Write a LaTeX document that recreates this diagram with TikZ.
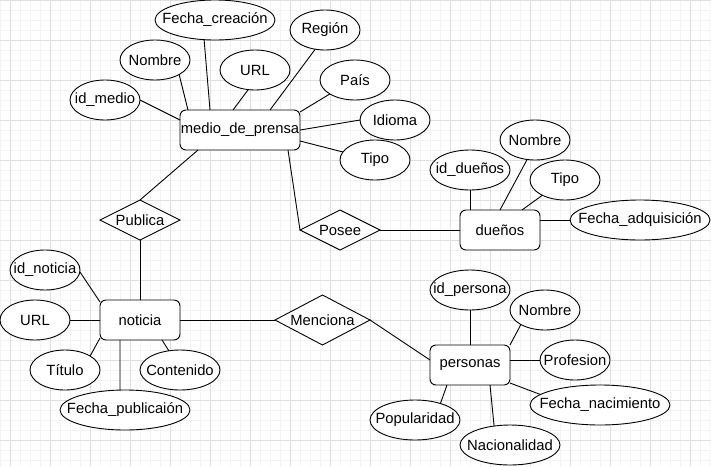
\documentclass[tikz,border=0pt]{standalone}
\usepackage{fontspec}
\setmainfont{Liberation Sans}
\usetikzlibrary{shapes.geometric}
\definecolor{gridminor}{HTML}{F3F3F3}
\definecolor{gridmajor}{HTML}{DFDFDF}
% text of zero width, so that shapes keep their given size
\newcommand{\erlabel}[1]{\makebox[0pt]{#1}}
\tikzset{
  every node/.style={font=\fontsize{14.8}{17}\selectfont, text=black},
  entity/.style={draw, line width=0.9pt, fill=white, rounded corners=6pt,
    minimum width=#1, minimum height=40pt, inner sep=0pt, outer sep=0pt},
  attr/.style={draw, line width=0.9pt, fill=white, ellipse,
    minimum width=#1, minimum height=40pt, inner sep=0pt, outer sep=0pt},
  rel/.style={draw, line width=0.9pt, fill=white, diamond,
    minimum width=#1, minimum height=#1*0.5, inner sep=0pt, outer sep=0pt},
  link/.style={line width=0.9pt, black},
}
\begin{document}
\begin{tikzpicture}[x=1pt, y=-1pt]
\useasboundingbox (0,0) rectangle (711,466);
\fill[white] (0,0) rectangle (711,466);
% background grid
\foreach \x in {0,10,...,710} \draw[gridminor, line width=0.8pt] (\x,0) -- (\x,466);
\foreach \y in {0,10,...,460} \draw[gridminor, line width=0.8pt] (0,\y) -- (711,\y);
\foreach \x in {10,50,...,690} \draw[gridmajor, line width=0.8pt] (\x,0) -- (\x,466);
\foreach \y in {0,40,...,440} \draw[gridmajor, line width=0.8pt] (0,\y) -- (711,\y);

% entities
\node[entity=120pt] (med) at (240,130) {\erlabel{medio\_de\_prensa}};
\node[entity=80pt] (due) at (500,230) {\erlabel{dueños}};
\node[entity=80pt] (noti) at (140,320) {\erlabel{noticia}};
\node[entity=80pt] (per) at (470,365) {\erlabel{personas}};

% relationships
\node[rel=80pt] (pub) at (140,220) {\erlabel{Publica}};
\node[rel=80pt] (pos) at (340,230) {\erlabel{Posee}};
\node[rel=95pt, minimum height=50pt] (men) at (322.5,320) {\erlabel{Menciona}};

% attributes of medio_de_prensa
\node[attr=70pt] (idm) at (105,100) {\erlabel{id\_medio}};
\node[attr=70pt] (nom1) at (155,60) {\erlabel{Nombre}};
\node[attr=120pt] (fcr) at (215,20) {\erlabel{Fecha\_creación}};
\node[attr=70pt] (url1) at (255,70) {\erlabel{URL}};
\node[attr=70pt] (reg) at (325,30) {\erlabel{Región}};
\node[attr=70pt] (pais) at (355,80) {\erlabel{País}};
\node[attr=70pt] (idio) at (395,120) {\erlabel{Idioma}};
\node[attr=70pt] (tipo1) at (375,160) {\erlabel{Tipo}};

% attributes of dueños
\node[attr=80pt] (idd) at (470,170) {\erlabel{id\_dueños}};
\node[attr=70pt] (nom2) at (535,140) {\erlabel{Nombre}};
\node[attr=70pt] (tipo2) at (565,180) {\erlabel{Tipo}};
\node[attr=140pt] (fad) at (640,220) {\erlabel{Fecha\_adquisición}};

% attributes of noticia
\node[attr=70pt] (idn) at (45,270) {\erlabel{id\_noticia}};
\node[attr=70pt] (url2) at (35,320) {\erlabel{URL}};
\node[attr=70pt] (tit) at (65,370) {\erlabel{Título}};
\node[attr=130pt] (fpu) at (125,410) {\erlabel{Fecha\_publicaión}};
\node[attr=80pt] (con) at (180,370) {\erlabel{Contenido}};

% attributes of personas
\node[attr=80pt] (idp) at (470,290) {\erlabel{id\_persona}};
\node[attr=70pt] (nom3) at (545,310) {\erlabel{Nombre}};
\node[attr=70pt] (prof) at (575,360) {\erlabel{Profesion}};
\node[attr=140pt] (fna) at (600,405) {\erlabel{Fecha\_nacimiento}};
\node[attr=100pt] (nac) at (510,445) {\erlabel{Nacionalidad}};
\node[attr=90pt] (pop) at (415,420) {\erlabel{Popularidad}};

% connectors: medio_de_prensa
\draw[link] (idm.0) -- ([yshift=10pt]med.west);
\draw[link] (nom1.-31) -- ([xshift=8pt]med.north west);
\draw[link] (fcr.-119) -- ([xshift=30pt]med.north west);
\draw[link] (url1.-109) -- ([xshift=53pt]med.north west);
\draw[link] (reg.-117) -- ([xshift=90pt]med.north west);
\draw[link] (pais.-151) -- ([yshift=-2pt]med.north east);
\draw[link] (idio.180) -- (med.east);
\draw[link] (tipo1.166) -- ([yshift=-11pt]med.east);
\draw[link] ([xshift=18pt]med.south west) -- (pub.north);
\draw[link] ([xshift=-12pt]med.south east) -- (pos.west);
\draw[link] (pos.east) -- (due.west);

% connectors: dueños
\draw[link] (idd.south) -- ([xshift=10pt]due.north west);
\draw[link] (nom2.-112) -- (due.north);
\draw[link] (tipo2.-146) -- ([xshift=-18pt]due.north east);
\draw[link] (fad.west) -- ([yshift=10pt]due.east);

% connectors: noticia
\draw[link] (pub.south) -- (noti.north);
\draw[link] (idn.-3) -- ([yshift=-2pt]noti.north west);
\draw[link] (url2.east) -- (noti.west);
\draw[link] (tit.29) -- ([yshift=2pt]noti.south west);
\draw[link] (fpu.104) -- ([xshift=20pt]noti.south west);
\draw[link] (con.120) -- ([xshift=-18pt]noti.south east);
\draw[link] (noti.east) -- (men.west);
\draw[link] (men.east) -- ([yshift=5pt]per.west);

% connectors: personas
\draw[link] (idp.south) -- (per.north);
\draw[link] (nom3.-149) -- (per.north east);
\draw[link] (prof.west) -- ([yshift=5pt]per.east);
\draw[link] (fna.170) -- ([yshift=2pt]per.south east);
\draw[link] (nac.130) -- ([xshift=60pt]per.south west);
\draw[link] (pop.33) -- ([xshift=17pt]per.south west);
\end{tikzpicture}
\end{document}
